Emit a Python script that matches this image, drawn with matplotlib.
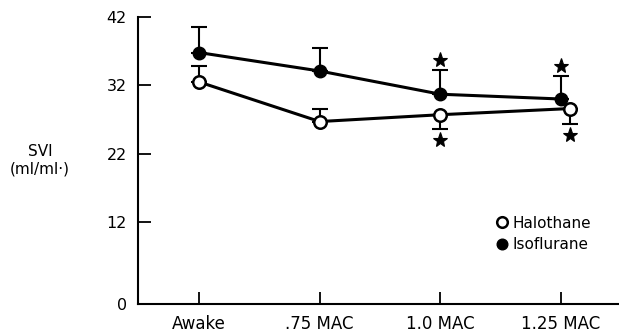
import matplotlib.pyplot as plt

# data
stages = ['Awake', '.75 MAC', '1.0 MAC', '1.25 MAC']
halothane = [32.5, 26.7, 27.7, 28.6]
halothane_sem = [2.4, 1.9, 2.1, 2.3]
halothane_err_up = [True, True, False, False]
isoflurane = [36.8, 34.1, 30.7, 30.0]
isoflurane_sem = [3.7, 3.3, 3.5, 3.3]
halothane_star = [False, False, True, True]
isoflurane_star = [False, False, True, True]

plt.rcParams['font.family'] = 'DejaVu Sans'
fig = plt.figure(figsize=(6.19, 3.34), dpi=100)
ax = fig.add_axes([0.223, 0.09, 0.777, 0.859])

x = list(range(len(stages)))
xh = [xi + (0.07 if i == 3 else 0) for i, xi in enumerate(x)]

h_lo = [0 if up else s for s, up in zip(halothane_sem, halothane_err_up)]
h_hi = [s if up else 0 for s, up in zip(halothane_sem, halothane_err_up)]

ax.errorbar(x, isoflurane, yerr=[[0] * 4, isoflurane_sem], fmt='none',
            ecolor='black', elinewidth=1.5, capsize=5.5, capthick=1.5, zorder=2)
ax.errorbar(xh, halothane, yerr=[h_lo, h_hi], fmt='none',
            ecolor='black', elinewidth=1.5, capsize=5.5, capthick=1.5, zorder=2)
ax.plot(x, isoflurane, '-o', color='black', lw=2.2, ms=9,
        mfc='black', mec='black', label='Isoflurane', zorder=3)
ax.plot(xh, halothane, '-o', color='black', lw=2.2, ms=9,
        mfc='white', mec='black', mew=1.8, label='Halothane', zorder=4)

# significance stars
for i in range(4):
    if isoflurane_star[i]:
        ax.plot(x[i], isoflurane[i] + isoflurane_sem[i] + 1.5, marker='*',
                color='black', ms=11, mew=0.8, zorder=5)
    if halothane_star[i]:
        ax.plot(xh[i], halothane[i] - halothane_sem[i] - 1.6, marker='*',
                color='black', ms=11, mew=0.8, zorder=5)

ax.set_xlim(-0.505, 3.48)
ax.set_ylim(0, 42)
ax.set_yticks([0, 12, 22, 32, 42])
ax.set_xticks(x)
ax.set_xticklabels(stages)
ax.spines['top'].set_visible(False)
ax.spines['right'].set_visible(False)
ax.spines['left'].set_linewidth(1.5)
ax.spines['bottom'].set_linewidth(1.5)
ax.tick_params(axis='y', direction='in', length=9, width=1.3, labelsize=11.5, pad=8)
ax.tick_params(axis='x', direction='in', length=9, width=1.3, labelsize=12, pad=8)

fig.text(0.065, 0.52, 'SVI\n(ml/ml·)', ha='center', va='center',
         fontsize=11, linespacing=1.2)

handles, labels = ax.get_legend_handles_labels()
leg = ax.legend(handles[::-1], labels[::-1], loc='upper left',
                bbox_to_anchor=(0.715, 0.355), frameon=False, handlelength=0.8,
                handletextpad=0.3, fontsize=11, markerscale=0.85,
                labelspacing=0.4)
for line in leg.get_lines():
    line.set_linestyle('none')

fig.savefig('out.png', dpi=100)
